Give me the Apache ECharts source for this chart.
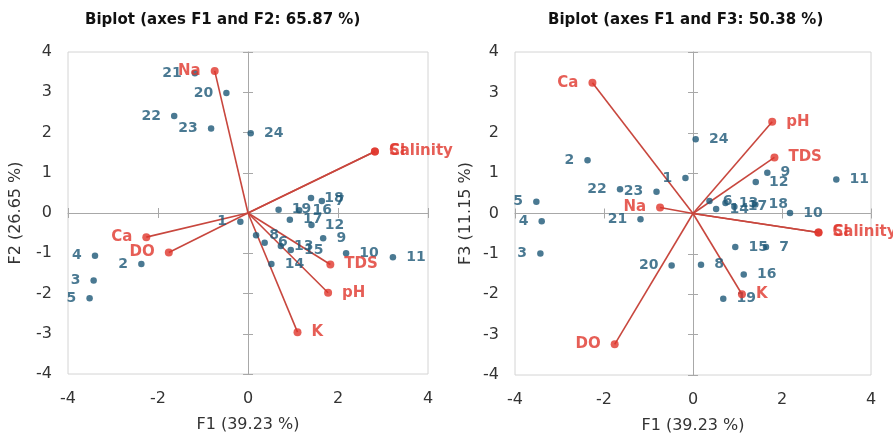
<!DOCTYPE html>
<html>
<head>
<meta charset="utf-8">
<script src="https://cdn.jsdelivr.net/npm/echarts@6/dist/echarts.min.js"></script>
<style>
html,body{margin:0;padding:0;background:#fff;}
#chart{width:893px;height:439px;}
</style>
</head>
<body>
<div id="chart"></div>
<script>
// ---- data ----
var obsNames = ['1','2','3','4','5','6','7','8','9','10','11','12','13','14','15','16','17','18','19','20','21','22','23','24'];
var obsF1 = [-0.17,-2.37,-3.43,-3.40,-3.52,0.37,1.64,0.18,1.67,2.18,3.22,1.41,0.73,0.52,0.95,1.14,0.93,1.40,0.68,-0.48,-1.18,-1.64,-0.82,0.06];
var obsF2 = [-0.22,-1.27,-1.68,-1.06,-2.12,-0.74,0.30,-0.55,-0.63,-1.00,-1.10,-0.30,-0.82,-1.27,-0.92,0.07,-0.17,0.37,0.08,2.98,3.47,2.41,2.10,1.98];
var obsF3 = [0.88,1.32,-0.99,-0.19,0.29,0.31,-0.83,-1.27,1.01,0.01,0.84,0.78,0.26,0.11,-0.83,-1.51,0.17,0.22,-2.11,-1.29,-0.14,0.60,0.54,1.84];

var varNames = ['Na','Ca','DO','K','pH','TDS','Cl','Salinity'];
var varF1 = [-0.74,-2.26,-1.76,1.10,1.78,1.83,2.82,2.82];
var varF2 = [3.53,-0.60,-0.98,-2.96,-1.98,-1.28,1.53,1.53];
var varF3 = [0.15,3.24,-3.24,-2.00,2.27,1.39,-0.47,-0.47];

var titles = ['Biplot (axes F1 and F2: 65.87 %)', 'Biplot (axes F1 and F3: 50.38 %)'];
var xNames = ['F1 (39.23 %)', 'F1 (39.23 %)'];
var yNames = ['F2 (26.65 %)', 'F3 (11.15 %)'];
var xTicks = [-4, -2, 0, 2, 4];
var yTicks = [-4, -3, -2, -1, 0, 1, 2, 3, 4];

// ---- style / layout ----
var FONT = 'DejaVu Sans';
var BLUE = '#1d5877';
var RED_TXT = '#e0362c';
var RED_LINE = '#c8473e';
var grids = [
  {left: 68, top: 52, width: 360, height: 322},
  {left: 515, top: 52, width: 356, height: 323}
];
var obsLeft = [
  ['1','2','3','4','5','20','21','22','23'],
  ['1','2','3','4','5','20','21','22','23']
];
var varLeft = ['Na','Ca','DO'];

var option = {
  animation: false,
  backgroundColor: '#fff',
  title: [],
  grid: [],
  xAxis: [],
  yAxis: [],
  series: []
};

var titleLefts = [80, 543];
var yNameGaps = [44, 41];

for (var g = 0; g < 2; g++) {
  var yVals = g === 0 ? obsF2 : obsF3;
  var vY = g === 0 ? varF2 : varF3;
  option.title.push({
    text: titles[g], left: titleLefts[g], top: 8,
    textStyle: {fontFamily: FONT, fontWeight: 'bold', fontSize: 15, color: '#111'}
  });
  option.grid.push({
    left: grids[g].left, top: grids[g].top, width: grids[g].width, height: grids[g].height,
    show: true, borderColor: '#d4d4d4', borderWidth: 1, backgroundColor: 'transparent'
  });
  var xb = option.xAxis.length, yb = option.yAxis.length;
  option.xAxis.push({
    type: 'value', gridIndex: g, min: xTicks[0], max: xTicks[xTicks.length - 1], interval: 2,
    position: 'bottom',
    axisLine: {show: false, onZero: false}, axisTick: {show: false}, splitLine: {show: false},
    axisLabel: {fontFamily: FONT, fontSize: 16, color: '#333', margin: 17},
    name: xNames[g], nameLocation: 'middle', nameGap: 43,
    nameTextStyle: {fontFamily: FONT, fontSize: 16, color: '#333'}
  });
  option.yAxis.push({
    type: 'value', gridIndex: g, min: yTicks[0], max: yTicks[yTicks.length - 1], interval: 1,
    position: 'left',
    axisLine: {show: false, onZero: false}, axisTick: {show: false}, splitLine: {show: false},
    axisLabel: {fontFamily: FONT, fontSize: 16, color: '#333', margin: 16},
    name: yNames[g], nameLocation: 'middle', nameGap: yNameGaps[g], nameRotate: 90,
    nameTextStyle: {fontFamily: FONT, fontSize: 16, color: '#333'}
  });
  for (var k = 0; k < 2; k++) {
    option.xAxis.push({
      type: 'value', gridIndex: g, min: xTicks[0], max: xTicks[xTicks.length - 1], interval: 2,
      position: 'bottom',
      axisLine: {show: k === 0, onZero: true, onZeroAxisIndex: yb, lineStyle: {color: '#a8a8a8', width: 1}},
      axisTick: {show: true, inside: k === 1, length: 5, lineStyle: {color: '#a8a8a8'}},
      axisLabel: {show: false}, splitLine: {show: false}
    });
    option.yAxis.push({
      type: 'value', gridIndex: g, min: yTicks[0], max: yTicks[yTicks.length - 1], interval: 1,
      position: 'left',
      axisLine: {show: k === 0, onZero: true, onZeroAxisIndex: xb, lineStyle: {color: '#a8a8a8', width: 1}},
      axisTick: {show: true, inside: k === 1, length: 5, lineStyle: {color: '#a8a8a8'}},
      axisLabel: {show: false}, splitLine: {show: false}
    });
  }
  var lineData = varNames.map(function (n, i) {
    return {coords: [[0, 0], [varF1[i], vY[i]]]};
  });
  option.series.push({
    type: 'lines', coordinateSystem: 'cartesian2d', xAxisIndex: xb, yAxisIndex: yb,
    data: lineData, symbol: 'none', silent: true,
    lineStyle: {color: RED_LINE, width: 1.6, opacity: 1}
  });
  option.series.push({
    type: 'scatter', xAxisIndex: xb, yAxisIndex: yb, symbolSize: 8, z: 4,
    itemStyle: {color: RED_TXT},
    data: varNames.map(function (n, i) {
      var left = varLeft.indexOf(n) >= 0;
      return {
        value: [varF1[i], vY[i]], name: n,
        label: {show: true, position: left ? 'left' : 'right', distance: 10, formatter: n}
      };
    }),
    label: {fontFamily: FONT, fontWeight: 'bold', fontSize: 15, color: RED_TXT}
  });
  option.series.push({
    type: 'scatter', xAxisIndex: xb, yAxisIndex: yb, symbolSize: 6.5, z: 3,
    itemStyle: {color: BLUE},
    data: obsNames.map(function (n, i) {
      var left = obsLeft[g].indexOf(n) >= 0;
      return {
        value: [obsF1[i], yVals[i]], name: n,
        label: {show: true, position: left ? 'left' : 'right', distance: 10, formatter: n}
      };
    }),
    label: {fontFamily: FONT, fontWeight: 'bold', fontSize: 14, color: BLUE}
  });
}

var chart = echarts.init(document.getElementById('chart'), null, {renderer: 'canvas'});
chart.setOption(option);
</script>
</body>
</html>
